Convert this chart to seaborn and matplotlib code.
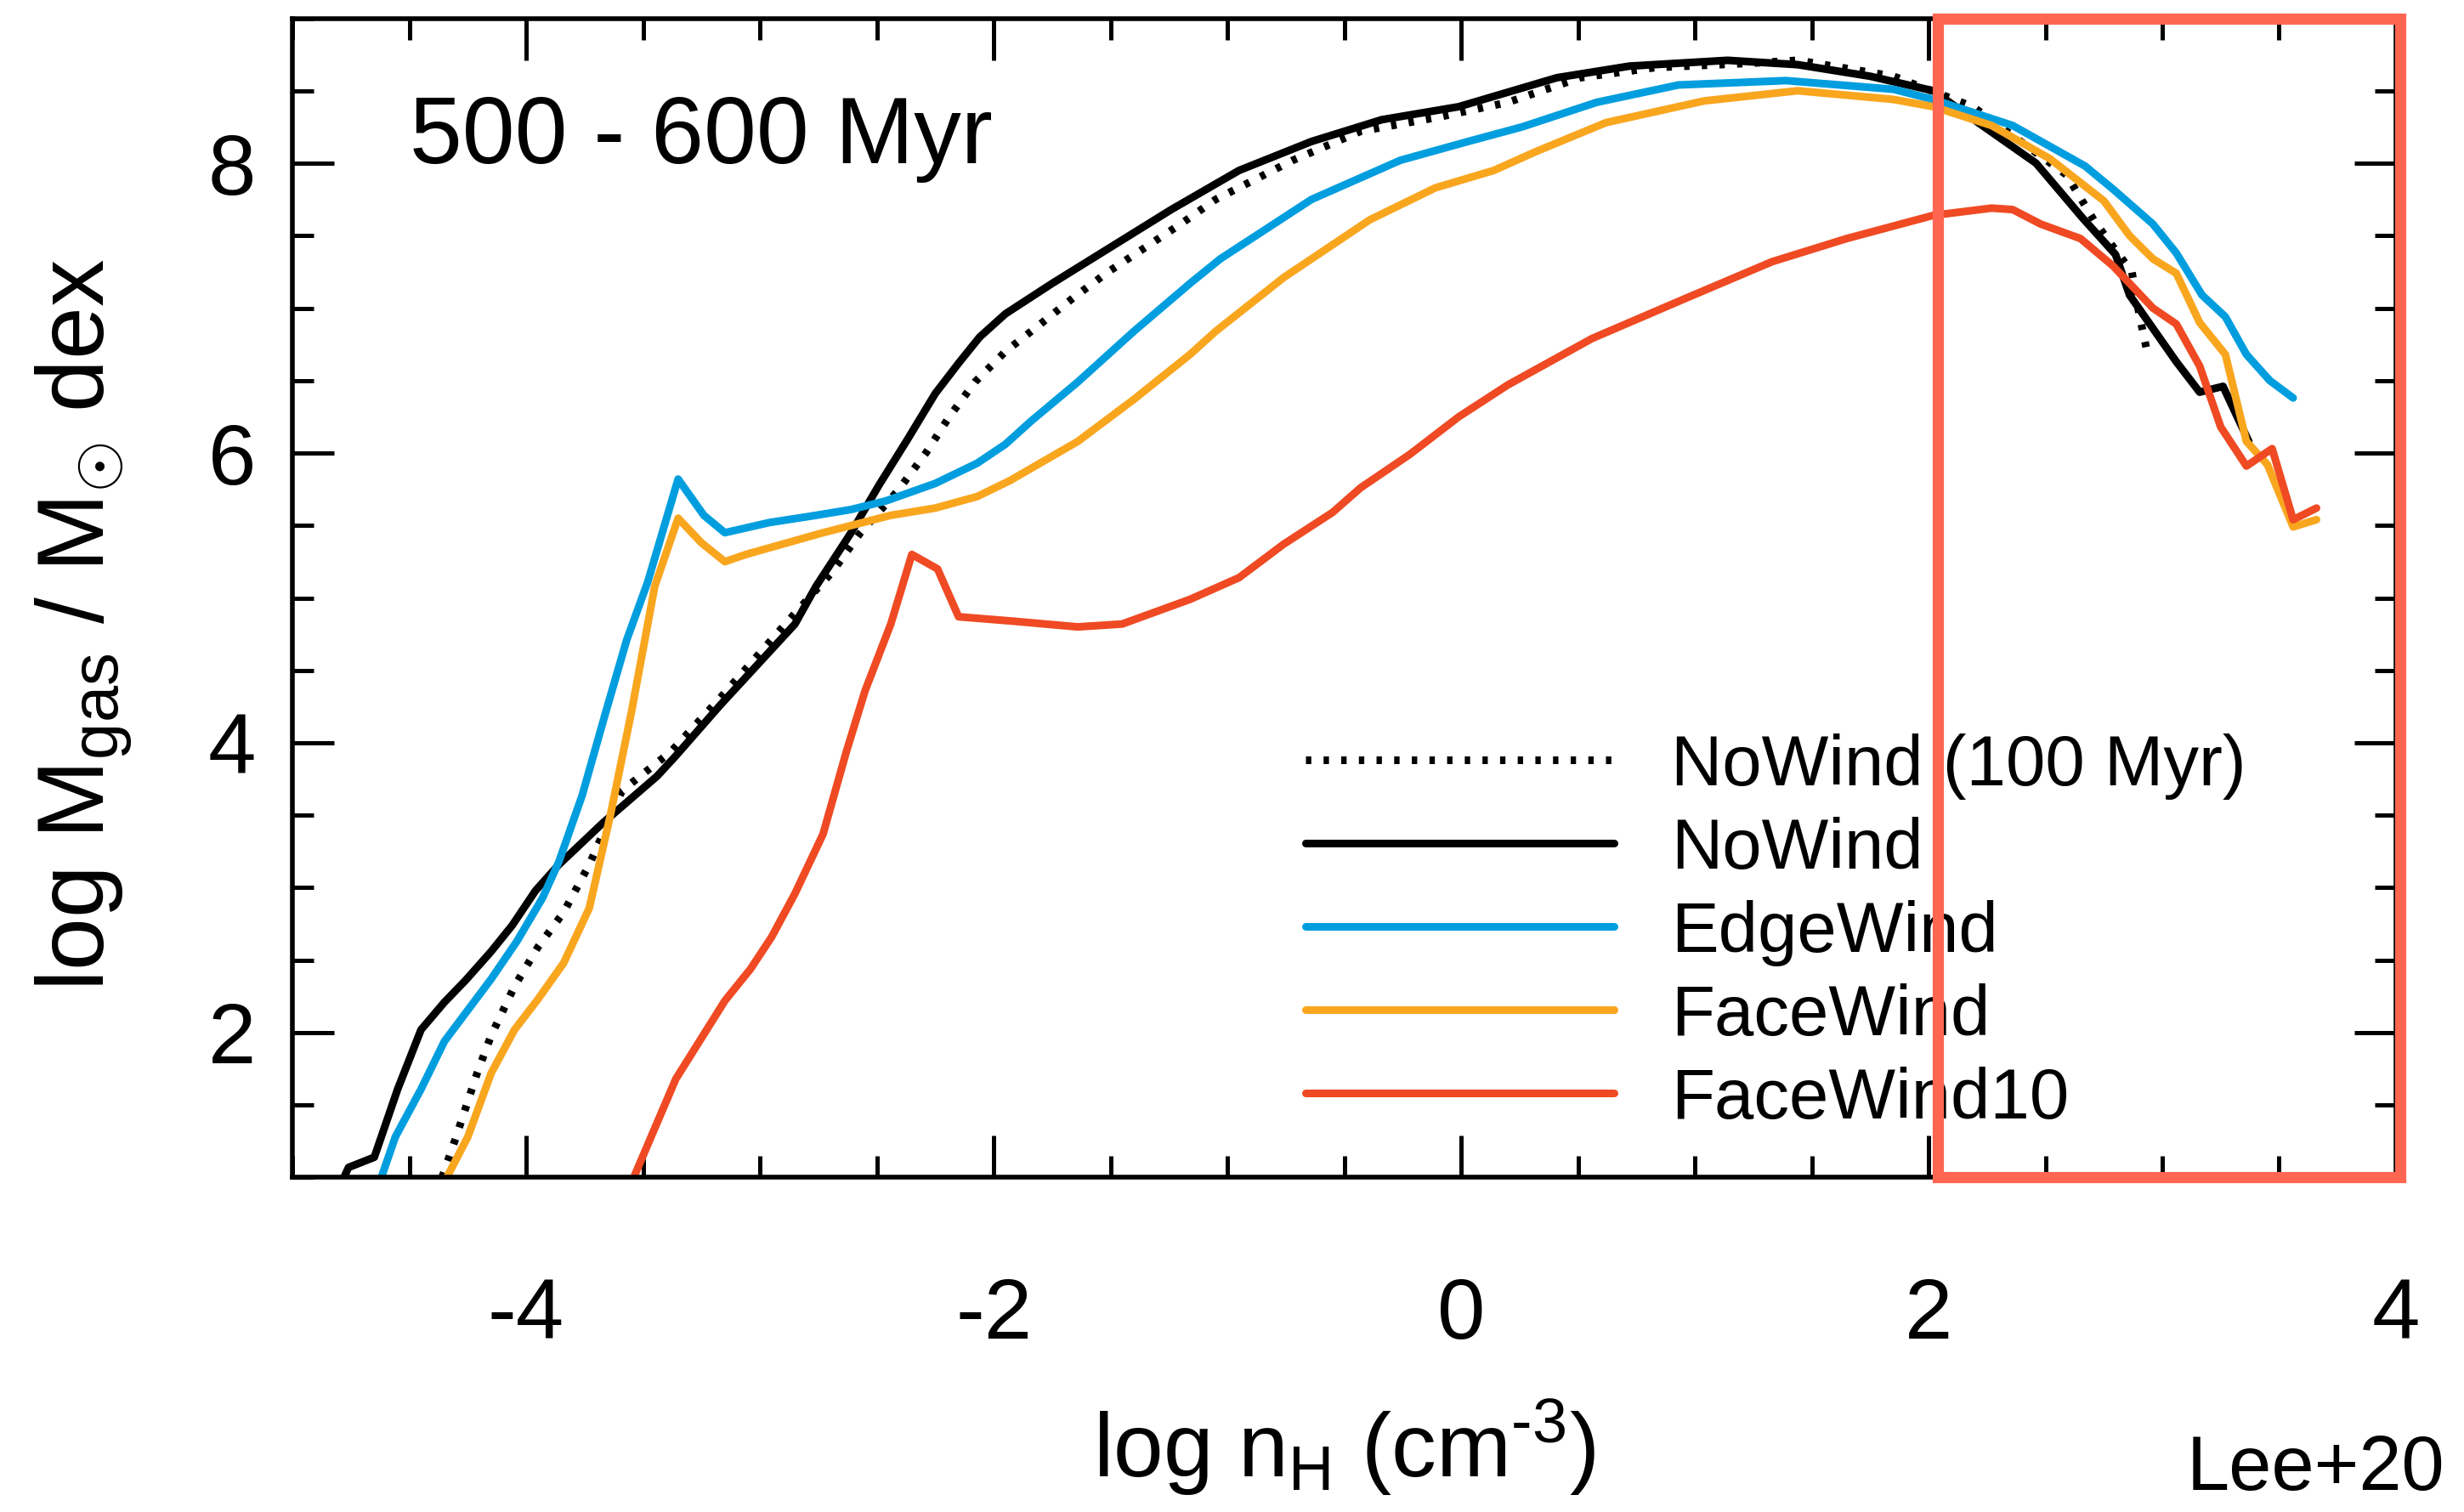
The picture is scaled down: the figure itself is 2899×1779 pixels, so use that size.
import numpy as np
import pandas as pd
import matplotlib
matplotlib.use("Agg")
import matplotlib.pyplot as plt
import seaborn as sns
from matplotlib.patches import Rectangle
from matplotlib.ticker import MultipleLocator

# ---------------- data ----------------
names = ["NoWind (100 Myr)", "NoWind", "EdgeWind", "FaceWind", "FaceWind10"]

nowind100_x = [-4.36, -4.30, -4.21, -4.15, -4.05, -3.95, -3.84, -3.73, -3.59, -3.38, -3.17,
               -2.88, -2.69, -2.57, -2.41, -2.29, -2.19, -2.08, -1.95, -1.80, -1.66, -1.51,
               -1.35, -1.20, -1.05, -0.72, -0.43, -0.09, 0.20, 0.51, 0.83, 1.24, 1.44, 1.85,
               2.19, 2.59, 2.71, 2.80, 2.87, 2.90, 2.94]
nowind100_y = [1.00, 1.28, 1.72, 1.98, 2.32, 2.59, 2.83, 3.16, 3.67, 3.94, 4.31,
               4.84, 5.18, 5.45, 5.74, 6.00, 6.25, 6.49, 6.70, 6.89, 7.07, 7.25,
               7.42, 7.58, 7.75, 8.02, 8.22, 8.32, 8.42, 8.59, 8.66, 8.69, 8.71, 8.60,
               8.39, 7.92, 7.60, 7.40, 7.25, 6.97, 6.66]

nowind_x = [-4.78, -4.76, -4.65, -4.55, -4.45, -4.35, -4.26, -4.15, -4.06, -3.96, -3.86,
            -3.67, -3.44, -3.36, -3.17, -2.85, -2.76, -2.61, -2.49, -2.37, -2.25, -2.15,
            -2.06, -1.95, -1.75, -1.55, -1.24, -0.95, -0.64, -0.34, -0.01, 0.20, 0.41,
            0.72, 1.14, 1.44, 1.75, 2.02, 2.23, 2.46, 2.66, 2.80, 2.86, 3.06, 3.16, 3.26, 3.37]
nowind_y = [1.00, 1.07, 1.14, 1.61, 2.02, 2.21, 2.36, 2.56, 2.74, 2.98, 3.16,
            3.45, 3.77, 3.91, 4.26, 4.82, 5.08, 5.45, 5.78, 6.09, 6.41, 6.62,
            6.80, 6.96, 7.17, 7.37, 7.68, 7.95, 8.15, 8.30, 8.39, 8.49, 8.59,
            8.67, 8.71, 8.68, 8.60, 8.50, 8.26, 8.00, 7.62, 7.37, 7.09, 6.63, 6.42, 6.46, 6.08]

edge_x = [-4.62, -4.56, -4.45, -4.35, -4.15, -4.04, -3.93, -3.86, -3.76, -3.66, -3.57,
          -3.48, -3.35, -3.24, -3.15, -2.96, -2.76, -2.61, -2.46, -2.25, -2.07, -1.95,
          -1.84, -1.64, -1.40, -1.16, -1.03, -0.64, -0.26, 0.03, 0.26, 0.58, 0.93, 1.39,
          1.85, 2.02, 2.36, 2.67, 2.79, 2.96, 3.06, 3.17, 3.27, 3.36, 3.46, 3.56]
edge_y = [1.00, 1.28, 1.61, 1.94, 2.37, 2.63, 2.93, 3.18, 3.64, 4.21, 4.71,
          5.11, 5.82, 5.57, 5.45, 5.52, 5.57, 5.61, 5.67, 5.79, 5.93, 6.06,
          6.22, 6.49, 6.84, 7.17, 7.34, 7.75, 8.02, 8.15, 8.25, 8.42, 8.54, 8.57,
          8.51, 8.44, 8.26, 7.98, 7.82, 7.58, 7.38, 7.09, 6.94, 6.68, 6.50, 6.38]

face_x = [-4.34, -4.25, -4.15, -4.05, -3.95, -3.84, -3.73, -3.64, -3.55, -3.45, -3.35,
          -3.25, -3.15, -3.06, -2.73, -2.44, -2.25, -2.07, -1.93, -1.64, -1.40, -1.16,
          -1.05, -0.76, -0.39, -0.11, 0.14, 0.32, 0.62, 1.04, 1.44, 1.85, 2.02, 2.27,
          2.52, 2.75, 2.86, 2.96, 3.06, 3.16, 3.27, 3.36, 3.45, 3.56, 3.66]
face_y = [1.00, 1.28, 1.72, 2.02, 2.23, 2.48, 2.86, 3.50, 4.21, 5.08, 5.55,
          5.38, 5.25, 5.30, 5.45, 5.57, 5.62, 5.70, 5.81, 6.08, 6.37, 6.68,
          6.84, 7.21, 7.61, 7.83, 7.95, 8.08, 8.28, 8.43, 8.50, 8.44, 8.39, 8.26,
          8.03, 7.74, 7.50, 7.34, 7.24, 6.90, 6.68, 6.08, 5.92, 5.49, 5.54]

face10_x = [-3.54, -3.36, -3.15, -3.04, -2.95, -2.85, -2.73, -2.63, -2.55, -2.44, -2.35,
            -2.24, -2.15, -1.92, -1.64, -1.45, -1.16, -0.95, -0.76, -0.55, -0.43, -0.22,
            -0.01, 0.20, 0.56, 0.95, 1.33, 1.65, 2.02, 2.27, 2.36, 2.48, 2.65, 2.79,
            2.96, 3.06, 3.16, 3.25, 3.36, 3.47, 3.56, 3.66]
face10_y = [1.00, 1.68, 2.22, 2.44, 2.66, 2.96, 3.37, 3.94, 4.36, 4.82, 5.30,
            5.20, 4.87, 4.84, 4.80, 4.82, 4.99, 5.14, 5.37, 5.59, 5.76, 5.99,
            6.25, 6.47, 6.79, 7.06, 7.32, 7.48, 7.64, 7.69, 7.68, 7.58, 7.48, 7.29,
            7.00, 6.89, 6.60, 6.18, 5.91, 6.03, 5.54, 5.62]

x_ticks = [-4, -2, 0, 2, 4]
y_ticks = [2, 4, 6, 8]
period_label = "500 - 600 Myr"
credit_label = "Lee+20"

# ---------------- styling ----------------
sns.set_style("ticks")
plt.rcParams['font.family'] = ['Liberation Sans', 'DejaVu Sans']
plt.rcParams['mathtext.fontset'] = 'custom'
plt.rcParams['mathtext.rm'] = 'Liberation Sans'
plt.rcParams['mathtext.it'] = 'Liberation Sans:italic'
plt.rcParams['mathtext.bf'] = 'Liberation Sans:bold'
plt.rcParams['axes.unicode_minus'] = False
for key in ['text.color', 'axes.labelcolor', 'xtick.color', 'ytick.color',
            'xtick.labelcolor', 'ytick.labelcolor']:
    plt.rcParams[key] = 'black'

palette = {
    "NoWind (100 Myr)": "#000000",
    "NoWind": "#000000",
    "EdgeWind": "#009EDE",
    "FaceWind": "#F9A61F",
    "FaceWind10": "#EF4A23",
}
dashes = {
    "NoWind (100 Myr)": (0.7, 1.6),
    "NoWind": "",
    "EdgeWind": "",
    "FaceWind": "",
    "FaceWind10": "",
}

series = [(names[0], nowind100_x, nowind100_y),
          (names[1], nowind_x, nowind_y),
          (names[2], edge_x, edge_y),
          (names[3], face_x, face_y),
          (names[4], face10_x, face10_y)]
df = pd.concat([pd.DataFrame({"logn": xs, "logM": ys, "run": n}) for n, xs, ys in series],
               ignore_index=True)

fig = plt.figure(figsize=(28.99, 17.79), dpi=100)
ax = fig.add_axes([0.1187, 0.2212, 0.8537, 0.7667])

sns.lineplot(data=df, x="logn", y="logM", hue="run", style="run",
             hue_order=names, style_order=names, palette=palette, dashes=dashes,
             estimator=None, sort=False, linewidth=6.5, legend=False, ax=ax)

ax.set_xlim(-5, 4)
ax.set_ylim(1, 9)
ax.set_xticks(x_ticks)
ax.set_yticks(y_ticks)
ax.xaxis.set_minor_locator(MultipleLocator(0.5))
ax.yaxis.set_minor_locator(MultipleLocator(0.5))
ax.tick_params(which='both', direction='in', top=True, right=True, width=3.6,
               color='black', labelcolor='black')
ax.tick_params(which='major', length=35)
ax.tick_params(which='minor', length=18)
ax.tick_params(axis='x', which='major', labelsize=73, pad=84)
ax.tick_params(axis='y', which='major', labelsize=73, pad=31)
for sp in ax.spines.values():
    sp.set_linewidth(4)
    sp.set_color('black')

ax.set_xlabel(r"log n$_{\mathrm{H}}$ (cm$^{\text{-3}}$)", fontsize=76, color='black')
ax.xaxis.set_label_coords(0.5, -0.2584)
ax.xaxis.label.set_va('baseline')
ax.set_ylabel(r"log M$_{\mathrm{gas}}$ / M$_{\odot}$ dex", fontsize=80, color='black')
ax.yaxis.set_label_coords(-0.0895, 0.477)
ax.yaxis.label.set_va('baseline')

ax.text(-4.5, 8.0, period_label, fontsize=80, va='baseline', ha='left', color='black')
fig.text(0.992, 0.0146, credit_label, fontsize=65, ha='right', va='baseline', color='black')

handles = ax.lines[:5]
leg = ax.legend(handles, names, loc='center left', bbox_to_anchor=(0.530, 0.383),
                bbox_transform=fig.transFigure, frameon=False, fontsize=60,
                handlelength=4.35, handletextpad=0.8, labelspacing=0.24,
                borderpad=0, borderaxespad=0)
for t in leg.get_texts():
    t.set_color('black')

ax.add_patch(Rectangle((2.04, 1.0), 1.98, 8.0, fill=False, edgecolor='#FF6652',
                       linewidth=9.5, clip_on=False, zorder=10))

fig.savefig("out.png", dpi=100)
